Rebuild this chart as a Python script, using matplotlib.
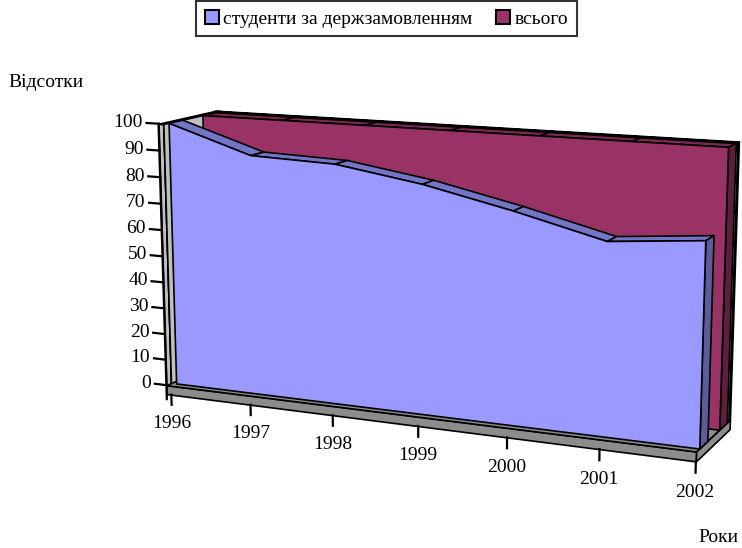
import numpy as np
import matplotlib.pyplot as plt
from matplotlib.patches import Patch
from mpl_toolkits.mplot3d import proj3d
from mpl_toolkits.mplot3d.art3d import Poly3DCollection

years = ['1996', '1997', '1998', '1999', '2000', '2001', '2002']
state_funded = [100, 90, 89, 84, 77, 69, 72]
total = [100, 100, 100, 100, 100, 100, 100]
series_names = ['студенти за держзамовленням', 'всього']
value_ticks = [0, 10, 20, 30, 40, 50, 60, 70, 80, 90, 100]

plt.rcParams['font.family'] = ['Liberation Serif', 'DejaVu Serif']

# front/top/side shades for each series
blue = ('#9999ff', '#7575c8', '#5c5c99')
maroon = ('#993366', '#7a2952', '#5c1f3d')
wall = '#c0c0c0'
floor_side = '#8c8c8c'

W, H = 742, 548
fig = plt.figure(figsize=(W / 100, H / 100), dpi=100)
# the 3d axes draws into a square, so give it a large square box
side = 900
cx, cy = 427, 262
ax = fig.add_axes([(cx - side / 2) / W, (cy - side / 2) / H, side / W, side / H],
                  projection='3d', computed_zorder=False)
ax.set_proj_type('persp', focal_length=0.4)
ax.view_init(elev=12, azim=-66)
ax.set_axis_off()

n = len(years)
xs = np.arange(n)
wt = 0.06      # wall thickness
yf = -0.15     # front edge of floor / left wall
yb = 1.5       # back wall
ft = 3.5       # floor thickness (value units)
zmax = value_ticks[-1]

ax.set_xlim(-wt, n - 1)
ax.set_ylim(yf, yb + wt)
ax.set_zlim(-ft, zmax)
ax.set_box_aspect(((n - 1 + wt) * 96, (yb + wt - yf) * 68, (zmax + ft) * 2.79),
                  zoom=1.153 * 548 / side)


def poly(verts, fc, z, lw=1.2):
    pc = Poly3DCollection([verts], facecolors=fc, edgecolors='black', linewidths=lw)
    pc.set_zorder(z)
    ax.add_collection3d(pc)


def box(x0, x1, y0, y1, z0, z1, fc, z):
    # faces seen by the camera: front, top, right end
    poly([(x0, y0, z0), (x1, y0, z0), (x1, y0, z1), (x0, y0, z1)], fc, z)
    poly([(x0, y0, z1), (x1, y0, z1), (x1, y1, z1), (x0, y1, z1)], fc, z)
    poly([(x1, y0, z0), (x1, y1, z0), (x1, y1, z1), (x1, y0, z1)], fc, z)


def area_slab(vals, y0, y1, shades, z):
    face, top, side_c = shades
    for i in range(n - 1):
        poly([(xs[i], y0, vals[i]), (xs[i + 1], y0, vals[i + 1]),
              (xs[i + 1], y1, vals[i + 1]), (xs[i], y1, vals[i])], top, z)
    poly([(xs[-1], y0, 0), (xs[-1], y1, 0), (xs[-1], y1, vals[-1]),
          (xs[-1], y0, vals[-1])], side_c, z)
    front = [(x, y0, v) for x, v in zip(xs, vals)] + [(xs[-1], y0, 0), (xs[0], y0, 0)]
    poly(front, face, z + 0.5)


# walls and floor
box(-wt, n - 1, yb, yb + wt, 0, zmax, wall, 1)
box(-wt, 0, yf, yb + wt, 0, zmax, wall, 2)
poly([(0, yf, 0), (0, yb, 0), (0, yb, zmax), (0, yf, zmax)], wall, 2)
box(-wt, n - 1, yf, yb + wt, -ft, 0, floor_side, 3)

# series, back to front
area_slab(total, 1.0, 1.4, maroon, 5)
area_slab(state_funded, 0.0, 0.4, blue, 8)

# axis lines and ticks
ax.plot([-wt, -wt], [yf, yf], [-ft - 2, zmax], color='black', lw=1.6, zorder=12)
for v in value_ticks:
    ax.plot([-wt - 0.15, -wt], [yf, yf], [v, v], color='black', lw=1.6, zorder=12)
for x in xs:
    ax.plot([x, x], [yf, yf], [-ft, -ft - 4], color='black', lw=1.6, zorder=12)

# tick labels are placed as flat figure text at the projected anchor points
fig.canvas.draw()
M = ax.get_proj()
to_fig = fig.transFigure.inverted()


def label_at(x, y, z, s, **kw):
    px, py, _ = proj3d.proj_transform(x, y, z, M)
    fx, fy = to_fig.transform(ax.transData.transform((px, py)))
    fig.text(fx, fy, s, fontsize=14, **kw)


for v in value_ticks:
    label_at(-wt - 0.2, yf, v, str(v), ha='right', va='center')
for x, label in zip(xs, years):
    label_at(x, yf, -ft - 8, label, ha='center', va='top')

fig.text(0.011, 0.849, 'Відсотки', fontsize=14, ha='left', va='center')
fig.text(0.995, 0.02, 'Роки', fontsize=14, ha='right', va='center')

handles = [Patch(facecolor=blue[0], edgecolor='black', linewidth=1.5),
           Patch(facecolor=maroon[0], edgecolor='black', linewidth=1.5)]
leg = fig.legend(handles, series_names, loc='upper center', bbox_to_anchor=(0.521, 0.998),
                 ncol=2, fontsize=14, frameon=True, fancybox=False, edgecolor='black',
                 handlelength=0.72, handleheight=0.72, handletextpad=0.25,
                 columnspacing=1.2, borderpad=0.45, borderaxespad=0.0)
leg.get_frame().set_linewidth(1.5)

fig.savefig('out.png', dpi=100)
